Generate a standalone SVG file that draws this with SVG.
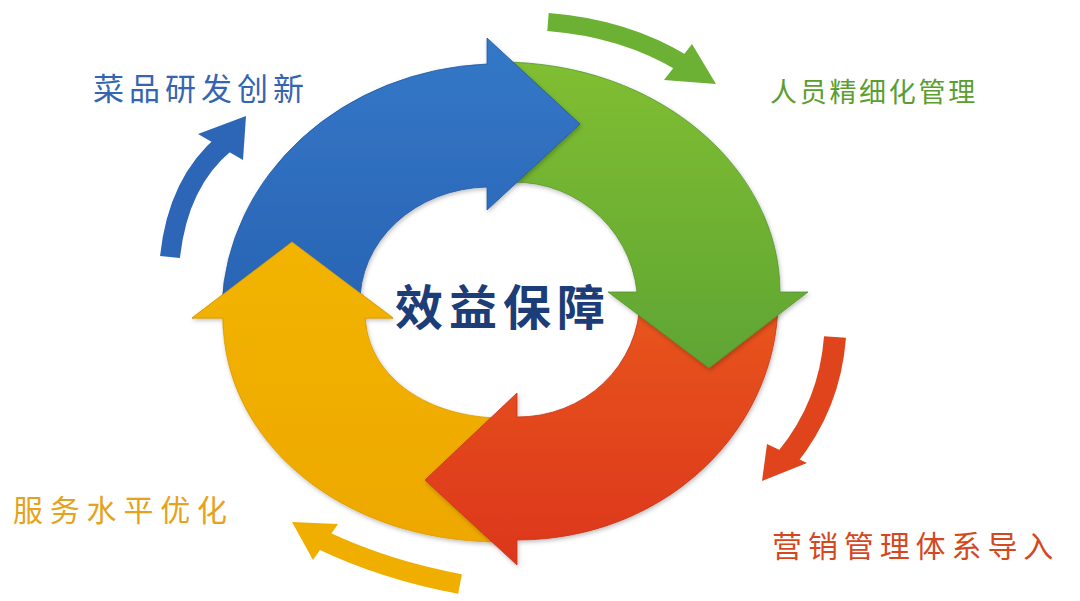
<svg xmlns="http://www.w3.org/2000/svg" xmlns:xlink="http://www.w3.org/1999/xlink" width="1080" height="601" viewBox="0 0 1080 601">
  <defs>
    <linearGradient id="gBlue" x1="0" y1="0" x2="0" y2="1">
      <stop offset="0" stop-color="#3478c8"/>
      <stop offset="1" stop-color="#2a64b4"/>
    </linearGradient>
    <linearGradient id="gGreen" x1="0" y1="0" x2="0" y2="1">
      <stop offset="0" stop-color="#80be30"/>
      <stop offset="1" stop-color="#5fa534"/>
    </linearGradient>
    <linearGradient id="gRed" x1="0" y1="0" x2="0" y2="1">
      <stop offset="0" stop-color="#e8561a"/>
      <stop offset="1" stop-color="#dc361c"/>
    </linearGradient>
    <linearGradient id="gYellow" x1="0" y1="0" x2="0" y2="1">
      <stop offset="0" stop-color="#f2b400"/>
      <stop offset="1" stop-color="#eea800"/>
    </linearGradient>
    <filter id="shadow" x="-10%" y="-10%" width="120%" height="120%">
      <feDropShadow dx="1" dy="2" stdDeviation="2" flood-color="#000" flood-opacity="0.25"/>
    </filter>
    <clipPath id="clipYellowHead">
      <rect x="180" y="235" width="225" height="95"/>
    </clipPath>
  </defs>
  <style>
    .lbl { font-family: "Noto Sans CJK SC", "Noto Sans", sans-serif; }
    .shaft { fill: none; stroke-linecap: butt; }
  </style>
  <rect width="1080" height="601" fill="#ffffff"/>

  <!-- main cycle arrows -->
  <g id="arrow-yellow" filter="url(#shadow)">
    <path id="yellowShape" d="M 192 318 L 292 242 L 393 318 L 365 318 C 370 380 430 417 500 418 L 500 542 C 340 542 223 440 223 318 Z" fill="url(#gYellow)" stroke="#d99a00" stroke-width="0.8"/>
  </g>
  <g id="arrow-red" filter="url(#shadow)">
    <path d="M 778 300 C 778 430 665 540 517 540 L 517 565 L 425 480 L 517 393 L 517 417 A 122 118 0 0 0 640 300 Z" fill="url(#gRed)" stroke="#c8321a" stroke-width="0.8"/>
  </g>
  <g id="arrow-green" filter="url(#shadow)">
    <path d="M 500 62 C 660 62 780 170 780 292 L 808 292 L 709 368 L 608 292 L 637 292 A 123 123 0 0 0 500 183 Z" fill="url(#gGreen)" stroke="#55962e" stroke-width="0.8"/>
  </g>
  <g id="arrow-blue" filter="url(#shadow)">
    <path d="M 222 305 A 278 250 0 0 1 487 64 L 487 38 L 580 124 L 487 210 L 487 187 A 130 115 0 0 0 360 305 Z" fill="url(#gBlue)" stroke="#24589e" stroke-width="0.8"/>
  </g>
  <g id="arrow-yellow-head" clip-path="url(#clipYellowHead)">
    <use xlink:href="#yellowShape"/>
  </g>

  <!-- small outer arrows -->
  <g id="connectors">
    <g id="small-blue">
      <path class="shaft" d="M 170 257 Q 178 182 225 143" stroke="#2d66b6" stroke-width="20"/>
      <polygon points="198,134 246,116 243,160" fill="#2d66b6"/>
    </g>
    <g id="small-green">
      <path class="shaft" d="M 548 22 Q 625 28 684 64" stroke="#6cb034" stroke-width="18"/>
      <polygon points="692,44 716,84 664,80" fill="#6cb034"/>
    </g>
    <g id="small-red">
      <path class="shaft" d="M 835 337 Q 830 405 787 458" stroke="#e0441c" stroke-width="22"/>
      <polygon points="767,444 762,481 807,463" fill="#e0441c"/>
    </g>
    <g id="small-yellow">
      <path class="shaft" d="M 460 584 Q 385 570 322 540" stroke="#f0ae00" stroke-width="20"/>
      <polygon points="292,522 338,524 313,560" fill="#f0ae00"/>
    </g>
  </g>

  <!-- labels -->
  <g id="label-center">
    <text class="lbl" x="395" y="325" font-size="48" font-weight="bold" letter-spacing="6" fill="#1c3d78">效益保障</text>
  </g>
  <g id="label-blue">
    <text class="lbl" x="93" y="100" font-size="31" letter-spacing="5" fill="#3565b0">菜品研发创新</text>
  </g>
  <g id="label-green">
    <text class="lbl" x="770" y="102" font-size="27" letter-spacing="2.7" fill="#5a9e30">人员精细化管理</text>
  </g>
  <g id="label-red">
    <text class="lbl" x="772" y="557" font-size="30" letter-spacing="5.9" fill="#d5481e">营销管理体系导入</text>
  </g>
  <g id="label-yellow">
    <text class="lbl" x="13" y="521" font-size="30" letter-spacing="6.8" fill="#e5a21a">服务水平优化</text>
  </g>
</svg>
